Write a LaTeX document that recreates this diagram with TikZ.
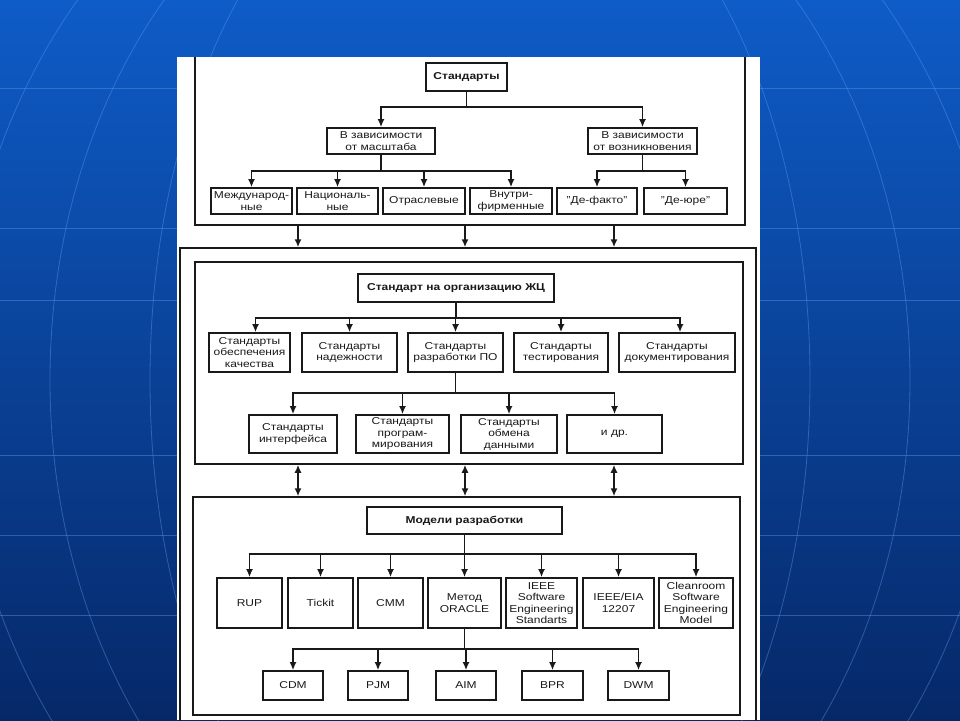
\documentclass[tikz,border=0pt]{standalone}
\usepackage{fontspec}
\setmainfont{Liberation Sans}[FakeStretch=1.2]
\usetikzlibrary{arrows.meta}
\definecolor{bgtop}{RGB}{14,92,200}
\definecolor{bgbot}{RGB}{6,40,104}
\definecolor{gridc}{RGB}{90,150,230}
\definecolor{ink}{RGB}{25,25,25}
\newcommand\bx[7][]{\node[bx,#1,minimum width={(#5-#3)*1pt},minimum height={(#6-#4)*1pt}] (#2) at ({(#3+#5)/2},{(#4+#6)/2}) {#7};}
\tikzset{
  bx/.style={draw=ink,text=ink,line width=1.7pt,align=center,inner sep=1pt,fill=white,
    font=\fontsize{10}{11.5}\selectfont},
  hd/.style={font=\fontsize{10}{11.5}\selectfont\bfseries},
  frm/.style={draw=ink,line width=1.5pt,fill=none,inner sep=0pt},
  arr/.style={draw=ink,-{Latex[length=8pt,width=7pt]},line width=1.6pt},
  darr/.style={draw=ink,{Latex[length=8pt,width=7pt]}-{Latex[length=8pt,width=7pt]},line width=1.6pt},
  gl/.style={draw=gridc,line width=0.8pt,opacity=0.45}
}
\begin{document}
\begin{tikzpicture}[x=1pt,y=-1pt]
\useasboundingbox (0,0) rectangle (960,720);
% background
\shade[top color=bgtop,bottom color=bgbot] (0,0) rectangle (960,720);
\foreach \yy in {88,228,300,455,535,615} \draw[gl] (0,\yy) -- (960,\yy);
\draw[gl] (480,380) ellipse (330 and 560);
\draw[gl] (480,380) ellipse (430 and 560);
\draw[gl] (480,380) ellipse (520 and 600);
% panel
\fill[white] (177,57) rectangle (760,720);
% frames
\begin{scope}
\clip (177,57) rectangle (760,720);
\bx[frm]{frameO}{180}{248}{756}{740}{}
\bx[frm]{frameB}{195}{262}{743}{464}{}
\bx[frm]{frameC}{193}{497}{740}{715}{}
\bx[frm]{frameA}{195}{40}{745}{225}{}
\end{scope}
\coordinate (xa) at (298,0);
\coordinate (xb) at (465,0);
\coordinate (xc) at (614,0);
% ---------- block 1
\bx[hd]{std}{426}{63}{507}{91}{Стандарты}
\bx{sa}{327}{128}{435}{154}{В зависимости\\от масштаба}
\bx{sb}{588}{128}{697}{154}{В зависимости\\от возникновения}
\bx{m1}{211}{188}{292}{214}{Международ-\\ные}
\bx{m2}{297}{188}{378}{214}{Националь-\\ные}
\bx{m3}{383}{188}{465}{214}{Отраслевые}
\bx{m4}{470}{188}{552}{214}{Внутри-\\фирменные}
\bx{m5}{557}{188}{637}{214}{"Де-факто"}
\bx{m6}{644}{188}{727}{214}{"Де-юре"}
\coordinate (b1) at (0,107);
\coordinate (b2) at (0,171);
\foreach \c in {sa,sb} \draw[arr] (std.south) -- (std.south |- b1) -| (\c.north);
\foreach \c in {m1,m2,m3,m4} \draw[arr] (sa.south) -- (sa.south |- b2) -| (\c.north);
\foreach \c in {m5,m6} \draw[arr] (sb.south) -- (sb.south |- b2) -| (\c.north);
\foreach \xx in {xa,xb,xc} \draw[arr] (frameA.south -| \xx) -- (frameO.north -| \xx);
% ---------- block 2
\bx[hd]{hdB}{358}{274}{554}{302}{Стандарт на организацию ЖЦ}
\bx{s1}{209}{333}{290}{372}{Стандарты\\обеспечения\\качества}
\bx{s2}{302}{333}{397}{372}{Стандарты\\надежности}
\bx{s3}{408}{333}{503}{372}{Стандарты\\разработки ПО}
\bx{s4}{514}{333}{608}{372}{Стандарты\\тестирования}
\bx{s5}{619}{333}{735}{372}{Стандарты\\документирования}
\bx{t1}{249}{415}{337}{453}{Стандарты\\интерфейса}
\bx{t2}{356}{415}{449}{453}{Стандарты\\програм-\\мирования}
\bx{t3}{461}{415}{557}{453}{Стандарты\\обмена\\данными}
\bx{t4}{567}{415}{662}{453}{и др.}
\coordinate (b3) at (0,318);
\coordinate (b4) at (0,393);
\draw[arr] (hdB.south) -- (hdB.south |- b3) -| ([xshift=6pt]s1.north);
\foreach \c in {s2,s3,s4} \draw[arr] (hdB.south) -- (hdB.south |- b3) -| (\c.north);
\draw[arr] (hdB.south) -- (hdB.south |- b3) -| ([xshift=3pt]s5.north);
\foreach \c in {t1,t2,t3,t4} \draw[arr] (s3.south) -- (s3.south |- b4) -| (\c.north);
\foreach \xx in {xa,xb,xc} \draw[darr] (frameB.south -| \xx) -- (frameC.north -| \xx);
% ---------- block 3
\bx[hd]{hdC}{367}{507}{562}{534}{Модели разработки}
\bx{r1}{217}{578}{282}{628}{RUP}
\bx{r2}{288}{578}{353}{628}{Tickit}
\bx{r3}{358}{578}{423}{628}{CMM}
\bx{r4}{428}{578}{501}{628}{Метод\\ORACLE}
\bx{r5}{506}{578}{577}{628}{IEEE\\Software\\Engineering\\Standarts}
\bx{r6}{583}{578}{654}{628}{IEEE/EIA\\12207}
\bx{r7}{659}{578}{733}{628}{Cleanroom\\Software\\Engineering\\Model}
\bx{q1}{263}{671}{323}{700}{CDM}
\bx{q2}{348}{671}{408}{700}{PJM}
\bx{q3}{436}{671}{496}{700}{AIM}
\bx{q4}{522}{671}{583}{700}{BPR}
\bx{q5}{608}{671}{669}{700}{DWM}
\coordinate (b5) at (0,554);
\coordinate (b6) at (0,649);
\foreach \c in {r1,r2,r3,r4,r5,r6,r7} \draw[arr] (hdC.south) -- (hdC.south |- b5) -| (\c.north);
\foreach \c in {q1,q2,q3,q4,q5} \draw[arr] (r4.south) -- (r4.south |- b6) -| (\c.north);
\end{tikzpicture}
\end{document}
